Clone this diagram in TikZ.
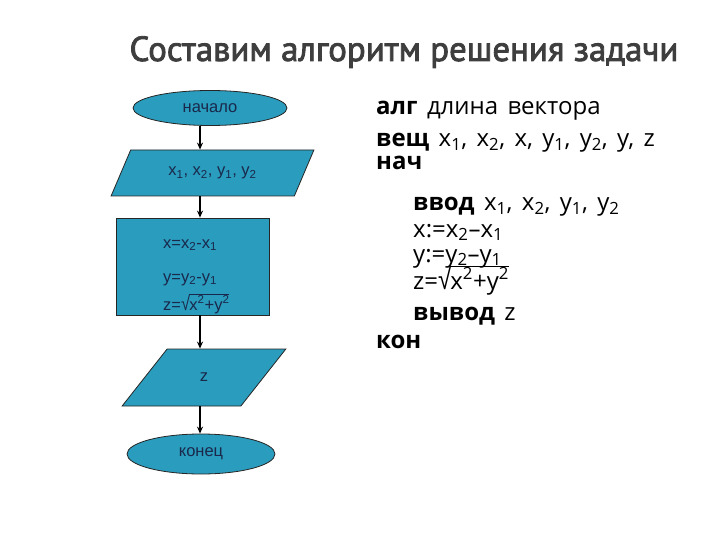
\documentclass[tikz,border=0pt]{standalone}
\usepackage{fontspec}
\usepackage{graphicx}
\setmainfont[WordSpace=1.5]{Open Sans}
\newfontfamily\arialf{Liberation Sans}
\newfontfamily\titlef[FakeBold=2.4]{PT Sans}
\usetikzlibrary{shapes.geometric,arrows.meta}
\definecolor{fillc}{RGB}{42,156,189}
\definecolor{txtc}{RGB}{25,40,75}
\definecolor{titlec}{RGB}{62,62,62}
\newcommand{\sbs}[1]{\textsubscript{#1}}
\newcommand{\sps}[1]{\textsuperscript{#1}}
\newlength{\sqh}
\newcommand{\msq}[1]{\setbox0=\hbox{#1}\setlength{\sqh}{\ht0}\addtolength{\sqh}{0.08em}%
  \resizebox{\width}{\sqh}{{\arialf √}}\kern-0.04em\vbox{\hrule height 0.055em\kern0.03em\box0}}
\begin{document}
\begin{tikzpicture}[x=1pt,y=-1pt,
  blk/.style={draw=black!85, line width=0.8pt, fill=fillc, text=txtc,
    font=\arialf\fontsize{16.5}{19}\selectfont, inner sep=0pt},
  term/.style={blk, ellipse},
  io/.style={blk, trapezium, trapezium stretches=true},
  arr/.style={line width=1.3pt, -{Stealth[length=7pt,width=6pt]}},
  ftxt/.style={text=txtc, font=\arialf\fontsize{16.5}{19}\selectfont, inner sep=0pt, anchor=base west},
  code/.style={text=black, font=\fontsize{24}{28}\selectfont, inner sep=0pt, anchor=base west}]
\useasboundingbox[fill=white] (0,0) rectangle (720,540);

\node[text=titlec, font=\titlef\fontsize{34.8}{40}\selectfont, inner sep=0pt, anchor=base] (title) at (404,61) {Составим алгоритм решения задачи};

% flowchart
\coordinate (ax) at (200,0);
\node[term, minimum width=154pt, minimum height=35pt] (start) at (210,108) {начало};
\node[io, trapezium left angle=49, trapezium right angle=131, minimum width=203pt, minimum height=46pt] (in1) at (212.5,173) {x\sbs{1}, x\sbs{2}, y\sbs{1}, y\sbs{2}};
\node[blk, rectangle, minimum width=153pt, minimum height=97pt] (calc) at (192.5,266.5) {};
\node[ftxt] (c1) at (163,248) {x=x\sbs{2}-x\sbs{1}};
\node[ftxt] (c2) at (163,282) {y=y\sbs{2}-y\sbs{1}};
\node[ftxt] (c3) at (163,310) {z=\msq{x\sps{2}+y\sps{2}}};
\node[io, trapezium left angle=60, trapezium right angle=120, minimum width=164pt, minimum height=57pt] (out) at (204,377.5) {z};
\node[term, minimum width=148pt, minimum height=40pt] (stop) at (201,454) {конец};

\draw[arr] (ax |- start.south) -- (ax |- in1.north);
\draw[arr] (ax |- in1.south) -- (ax |- calc.north);
\draw[arr] (ax |- calc.south) -- (ax |- out.north);
\draw[arr] (ax |- out.south) -- (ax |- stop.north);

% algorithm text
\node[code] (l1) at (376,115) {\textbf{алг} длина вектора};
\node[code] (l2) at (376,147) {\textbf{вещ} x\sbs{1}, x\sbs{2}, x, y\sbs{1}, y\sbs{2}, y, z};
\node[code] (l3) at (376,170) {\textbf{нач}};
\node[code] (l4) at (413,211) {\textbf{ввод} x\sbs{1}, x\sbs{2}, y\sbs{1}, y\sbs{2}};
\node[code] (l5) at (413,237) {x:=x\sbs{2}–x\sbs{1}};
\node[code] (l6) at (413,262) {y:=y\sbs{2}–y\sbs{1}};
\node[code] (l7) at (413,289) {z=\msq{x\sps{2}+y\sps{2}}};
\node[code] (l8) at (413,320) {\textbf{вывод} z};
\node[code] (l9) at (376,348) {\textbf{кон}};
\end{tikzpicture}
\end{document}
